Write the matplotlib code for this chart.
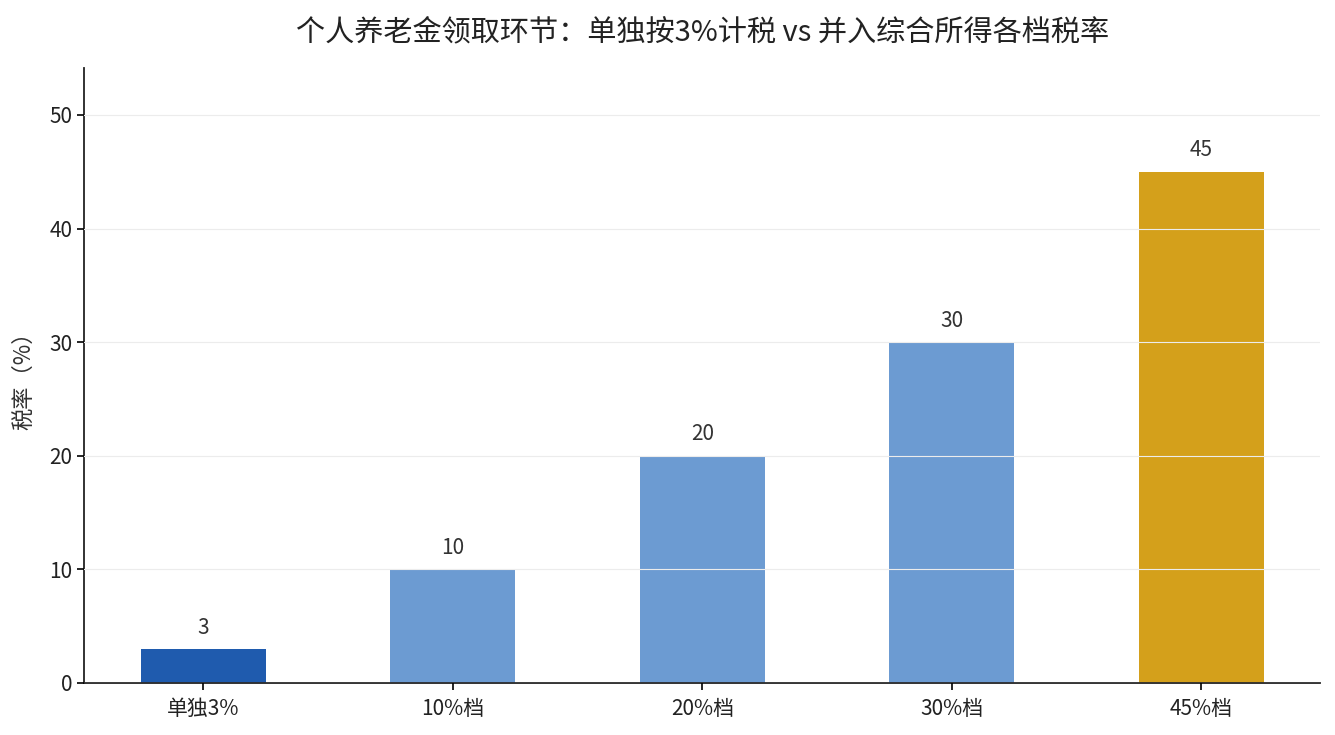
import matplotlib
matplotlib.use('Agg')
import matplotlib.pyplot as plt

plt.rcParams['font.family'] = ['Noto Sans CJK SC', 'DejaVu Sans']

categories = ['单独3%', '10%档', '20%档', '30%档', '45%档']
rates = [3, 10, 20, 30, 45]
colors = ['#1f5bae', '#6c9bd2', '#6c9bd2', '#6c9bd2', '#d4a01b']

fig, ax = plt.subplots(figsize=(13.35, 7.35), dpi=100)
fig.subplots_adjust(left=0.063, right=0.989, top=0.907, bottom=0.071)

x = range(len(categories))
bars = ax.bar(x, rates, width=0.5, color=colors, zorder=1)
for xi, v in zip(x, rates):
    ax.text(xi, v + 0.9, str(v), ha='center', va='bottom', fontsize=15, color='#333333')

ax.set_xticks(list(x))
ax.set_xticklabels(categories, fontsize=15, color='#222222')
ax.tick_params(axis='x', pad=6)
ax.tick_params(axis='y', labelsize=15, labelcolor='#222222')
ax.tick_params(width=1.2, length=5)
ax.set_xlim(-0.477, 4.477)
ax.set_ylim(0, 54.1)
ax.set_ylabel('税率（%）', fontsize=16, color='#333333', labelpad=10)
ax.set_title('个人养老金领取环节：单独按3%计税 vs 并入综合所得各档税率', fontsize=21, color='#222222', pad=20)

ax.grid(axis='y', color='#ececec', linewidth=0.8, zorder=2)
ax.set_axisbelow(False)
ax.spines['top'].set_visible(False)
ax.spines['right'].set_visible(False)
for s in ('left', 'bottom'):
    ax.spines[s].set_linewidth(1.3)
    ax.spines[s].set_color('#222222')

plt.savefig('out.png', dpi=100)
